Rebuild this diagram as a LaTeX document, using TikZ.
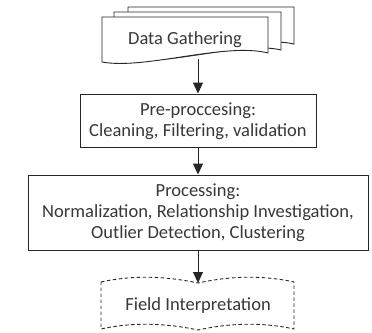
\documentclass[tikz,border=0pt]{standalone}
\usepackage{fontspec}
\setmainfont{Carlito}
\usetikzlibrary{arrows.meta}
\begin{document}
\begin{tikzpicture}[x=1pt,y=-1pt,
  line/.style={draw=black!85,line width=0.9pt},
  txt/.style={text=black!78,font=\fontsize{18.5}{21}\selectfont,align=center,inner sep=0pt},
  boxnode/.style={line,fill=white,rectangle,inner sep=0pt},
  flow/.style={line,-{Triangle[length=11pt,width=10pt]}}]
\useasboundingbox (0,0) rectangle (372,332);
% multi-document stack
\draw[line,fill=white] (128,7) -- (294,7) -- (294,44) .. controls (250,34) and (170,64) .. (128,52) -- cycle;
\draw[line,fill=white] (114,12) -- (281,12) -- (281,50) .. controls (240,40) and (160,70) .. (114,57) -- cycle;
\draw[line,fill=white] (102,17) -- (268,17) -- (268,53) .. controls (225,42) and (145,70) .. (102,62) -- cycle;
\node[txt] (gather) at (185,40) {Data Gathering};
\coordinate (gatherout) at (198,59);
% pre-processing
\node[boxnode,minimum width=236pt,minimum height=53pt] (pre) at (198,120.5) {};
\node[txt] (pretext) at (198,121) {Pre-proccesing:\\Cleaning, Filtering, validation};
% processing
\node[boxnode,minimum width=340pt,minimum height=75pt] (proc) at (198,212.5) {};
\node[txt] (proctext) at (198,213) {Processing:\\Normalization, Relationship Investigation,\\Outlier Detection, Clustering};
% field interpretation (punched tape)
\draw[line,dash pattern=on 3.5pt off 2.5pt,fill=white]
  (101,282) .. controls (133,275) and (165,276) .. (198,283)
  .. controls (230,276) and (262,275) .. (294,282) -- (294,329)
  .. controls (262,322) and (230,323) .. (198,330)
  .. controls (165,323) and (133,322) .. (101,329) -- cycle;
\node[txt] (field) at (198,306) {Field Interpretation};
\coordinate (fieldin) at (198,283);
% connectors
\draw[flow] (gatherout) -- (pre.north);
\draw[flow] (pre.south) -- (proc.north);
\draw[flow] (proc.south) -- (fieldin);
\end{tikzpicture}
\end{document}
